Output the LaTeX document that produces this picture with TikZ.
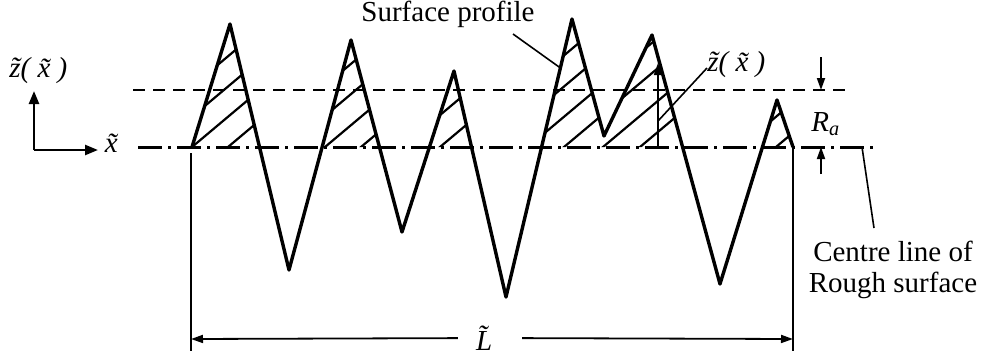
\documentclass[tikz,border=0pt]{standalone}
\usepackage{fontspec}
\setmainfont{Liberation Serif}
\usetikzlibrary{arrows.meta, calc}
\tikzset{
  profile/.style={line width=1.7pt, line join=round},
  hatch/.style={line width=1.1pt},
  meanline/.style={line width=1.5pt, dash pattern=on 12pt off 3pt on 1.5pt off 3pt},
  raline/.style={line width=1pt, dash pattern=on 6pt off 4pt},
  dim/.style={line width=0.9pt},
  leader/.style={line width=0.8pt},
  arr/.style={-{Triangle[length=6pt, width=4pt]}, line width=0.9pt},
  axarr/.style={-{Triangle[length=6.5pt, width=5pt]}, line width=1.2pt},
  lbl/.style={inner sep=0pt, font=\fontsize{14.5}{15.5}\selectfont}
}

\begin{document}
\begin{tikzpicture}[x=0.5pt, y=-0.5pt]
  \useasboundingbox (0,0) rectangle (982,355);
  \foreach \x/\y [count=\i from 0] in {192/147, 230/24, 289/270, 351/40, 402/232,
      454/71, 506/297, 572/19, 604/136, 652/35, 720/284, 777/100, 793/147}
    \coordinate (p\i) at (\x,\y);

  \draw[raline] (133,90) -- (852,90);
  \draw[meanline] (138,147) -- (877,147);

  \begin{scope}
    \clip (0,0) rectangle (982,147);
    \clip (p0) \foreach \i in {1,...,12} { -- (p\i) } -- cycle;
    \foreach \c/\xa/\xb in {120/190/262, 156/190/262, 192/190/262, 228/190/262,
        252/320/382, 288/320/382, 325/320/382, 361/320/382,
        402/426/472, 440/426/472,
        455/540/686, 492/540/686, 528/540/686, 564/540/686, 603/540/686, 640/540/686,
        740/760/795, 776/760/795}
      \draw[hatch] (\xa,{147-0.84*(\xa-\c)}) -- (\xb,{147-0.84*(\xb-\c)});
  \end{scope}
  \draw[profile] (p0) \foreach \i in {1,...,12} { -- (p\i) };

  \coordinate (o) at (34,150);
  \draw[axarr] (o) -- (34,91);
  \draw[axarr] (o) -- (98,150);
  \node[lbl, anchor=base] (xlab) at (117,152) {\textit{\~x}};
  \node[lbl, anchor=base west] (zaxis) at (9,77) {\textit{\~z( \~x )}};

  \node[lbl, anchor=base] (prof) at (448,21) {Surface profile};
  \coordinate (sp) at ($(p6)!0.824!(p7)$);
  \draw[leader] (513,34) -- (sp);

  \draw[arr] (658,147) -- (658,63);
  \node[lbl, anchor=base west] (zlab) at (707,71) {\textit{\~z( \~x )}};
  \draw[leader] (658,121) -- (707,68);

  \draw[arr] (821,57) -- (821,90);
  \draw[arr] (821,174) -- (821,147);
  \node[lbl, anchor=base west] (ra) at (811,131) {\textit{R}\textsubscript{\textit{a}}};

  \node[lbl, align=center] (cent) at (893,270) {Centre line of\\Rough surface};
  \draw[leader] (862,147) -- (874,228);

  \draw[dim] (191,153) -- (191,351);
  \draw[dim] (p12) -- (793,351);
  \coordinate (dl) at (191,339);
  \coordinate (dr) at (793,339);
  \node[lbl, inner xsep=9pt] (llab) at (490,338) {\textit{\~L}};
  \draw[arr] (llab) -- (dl);
  \draw[arr] (llab) -- (dr);
\end{tikzpicture}
\end{document}
